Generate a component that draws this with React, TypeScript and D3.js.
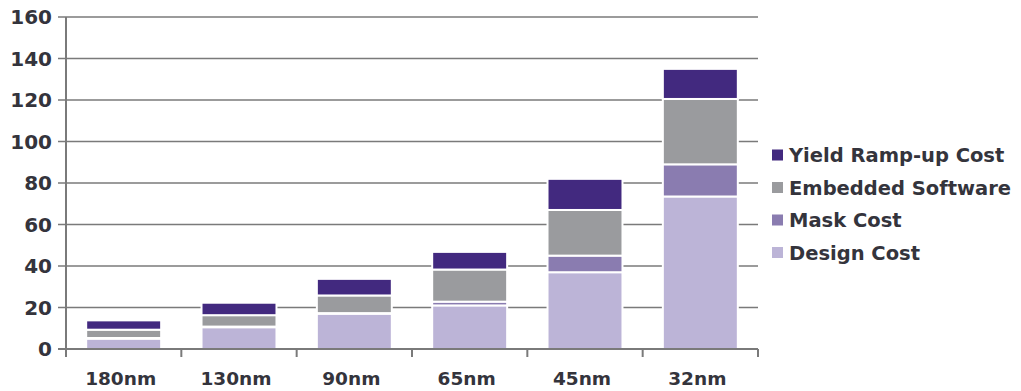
import React, { useEffect, useRef } from 'react';
import * as d3 from 'd3';

// values ($M)
const nodes = ['180nm', '130nm', '90nm', '65nm', '45nm', '32nm'];
const designCost = [5, 10.5, 17, 21, 37, 73.5];
const maskCost = [0.3, 0.3, 0.3, 1.8, 8, 15.5];
const embeddedSoftware = [4, 5.5, 8.5, 15.5, 22, 31.5];
const yieldRampUp = [4.5, 6, 8, 8.5, 15, 14.5];
const yTicks = [0, 20, 40, 60, 80, 100, 120, 140, 160];

const seriesNames = ['Design Cost', 'Mask Cost', 'Embedded Software', 'Yield Ramp-up Cost'];
const seriesColors = ['#bcb4d7', '#8a7cb0', '#9a9b9e', '#42297f'];

const W = 1021;
const H = 391;

const App = () => {
    const svgRef = useRef<SVGSVGElement>(null);

    useEffect(() => {
        const svg = d3.select(svgRef.current);
        svg.selectAll('*').remove();

        const left = 66, right = 758, top = 17, bottom = 349;
        const font = '"DejaVu Sans", Verdana, sans-serif';
        const textColor = '#34343c';
        const lineColor = '#7a7a7a';

        const x = d3.scaleBand<string>()
            .domain(nodes)
            .range([left, right])
            .paddingInner(0.35)
            .paddingOuter(0.175);

        const y = d3.scaleLinear().domain([0, 160]).range([bottom, top]);

        const rows = nodes.map((n, i) => ({
            node: n,
            'Design Cost': designCost[i],
            'Mask Cost': maskCost[i],
            'Embedded Software': embeddedSoftware[i],
            'Yield Ramp-up Cost': yieldRampUp[i],
        }));
        const stacked = d3.stack<any>().keys(seriesNames)(rows);

        // gridlines
        svg.append('g')
            .selectAll('line')
            .data(yTicks.filter(t => t > 0))
            .join('line')
            .attr('x1', left - 8)
            .attr('x2', right)
            .attr('y1', d => y(d))
            .attr('y2', d => y(d))
            .attr('stroke', lineColor)
            .attr('stroke-width', 1.5);

        // bars
        svg.append('g')
            .selectAll('g')
            .data(stacked)
            .join('g')
            .attr('fill', (_, i) => seriesColors[i])
            .selectAll('rect')
            .data(d => d)
            .join('rect')
            .attr('x', d => x(d.data.node)!)
            .attr('width', x.bandwidth())
            .attr('y', d => y(d[1]))
            .attr('height', d => y(d[0]) - y(d[1]))
            .attr('stroke', '#fff')
            .attr('stroke-width', 2);

        // axes
        const axisG = svg.append('g');
        axisG.append('line')
            .attr('x1', left).attr('x2', left)
            .attr('y1', top).attr('y2', bottom + 8)
            .attr('stroke', lineColor).attr('stroke-width', 2);
        axisG.append('line')
            .attr('x1', left - 8).attr('x2', right)
            .attr('y1', bottom).attr('y2', bottom)
            .attr('stroke', lineColor).attr('stroke-width', 2);
        const bounds = nodes.map(n => x(n)! - x.step() * x.paddingInner() / 2).concat([right]);
        axisG.selectAll('line.tick')
            .data(bounds)
            .join('line')
            .attr('class', 'tick')
            .attr('x1', d => d).attr('x2', d => d)
            .attr('y1', bottom).attr('y2', bottom + 8)
            .attr('stroke', lineColor).attr('stroke-width', 2);

        svg.append('g')
            .selectAll('text')
            .data(yTicks)
            .join('text')
            .attr('x', 52)
            .attr('y', d => y(d))
            .attr('dy', '0.36em')
            .attr('text-anchor', 'end')
            .attr('font-family', font)
            .attr('font-weight', 'bold')
            .attr('font-size', 20)
            .attr('fill', textColor)
            .text(d => d);

        svg.append('g')
            .selectAll('text')
            .data(nodes)
            .join('text')
            .attr('x', d => x(d)! + x.bandwidth() / 2 - 3)
            .attr('y', 378)
            .attr('dy', '0.36em')
            .attr('text-anchor', 'middle')
            .attr('font-family', font)
            .attr('font-weight', 'bold')
            .attr('font-size', 18.5)
            .attr('fill', textColor)
            .text(d => d);

        // legend, top entry is the top of the stack
        const legend = svg.append('g');
        const order = [3, 2, 1, 0];
        order.forEach((si, k) => {
            const cy = 155 + k * 32.5;
            legend.append('rect')
                .attr('x', 772).attr('y', cy - 5.5)
                .attr('width', 11).attr('height', 11)
                .attr('fill', seriesColors[si]);
            legend.append('text')
                .attr('x', 789).attr('y', cy)
                .attr('dy', '0.36em')
                .attr('font-family', font)
                .attr('font-weight', 'bold')
                .attr('font-size', 19.5)
                .attr('fill', textColor)
                .text(seriesNames[si]);
        });
    }, []);

    return (
        <svg
            ref={svgRef}
            width={W}
            height={H}
            style={{ position: 'absolute', left: 0, top: 0, background: '#fff' }}
        />
    );
};

export default App;
